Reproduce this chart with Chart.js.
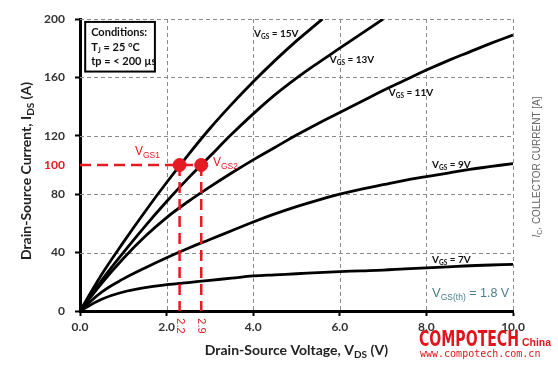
<!DOCTYPE html>
<html>
<head>
<meta charset="utf-8">
<script src="https://cdn.jsdelivr.net/npm/chart.js@4.4.1/dist/chart.umd.min.js"></script>
<style>body{margin:0;background:#fff}</style>
</head>
<body>
<canvas id="grafico" width="558" height="365"></canvas>
<script>
const vdsGrid = [0,0.5,1,1.5,2,2.5,3,3.5,4,4.5,5,5.5,6,6.5,7,7.5,8,8.5,9,9.5,10];
const vds15 = [0,0.5,1,1.5,2,2.5,3,3.5,4,4.5,5,5.5,5.6];
const ids15 = [0,25,47,68,88,107,125,141.5,157,171.5,185,197.5,200];
const vds13 = [0,0.5,1,1.5,2,2.5,3,3.5,4,4.5,5,5.5,6,6.5,7];
const ids13 = [0,21,40,58,75,91,106,121,135,148,159.5,170,180,190,200];
const ids11 = [0,19,36,51,64,75,85,94.5,103.5,112,120.5,128.5,136,143.5,151,158,165,171.5,177.5,183.5,189];
const ids9  = [0,13,22,29.5,36.5,43,49,55,61,66.5,71.5,76,80,83.5,86.5,89.5,92,94.5,97,99,101];
const ids7  = [0,8,13,16,18,19.5,21,22.5,24,24.8,25.5,26.3,27,27.5,28,28.8,29.5,30.2,31,31.5,32];
const curveNames = ['15V','13V','11V','9V','7V'];
const xTicks = [0,2,4,6,8,10];
const yTicks = [0,40,80,100,120,160,200];
const markerV = [2.3, 2.8];
const markerI = 100;
const markerTicks = ['2.2','2.9'];
const markerNames = ['GS1','GS2'];

const ROJO = '#e51a22';
const FONT = 'Lato, "Open Sans", sans-serif';
const SANS = '"Liberation Sans", Arial, sans-serif';

function puntos(xs, ys){ return xs.map((x,i)=>({x:x, y:ys[i]})); }

function curva(xs, ys){
    return {data: puntos(xs, ys), borderColor:'#000', borderWidth:2.8, pointRadius:0,
        fill:false, tension:0.4, order:2};
}

// texto con subindices
function rico(ctx, x, y, partes, align){
    let w = 0;
    partes.forEach(p => { ctx.font = p.f; w += ctx.measureText(p.t).width; });
    let cx = align === 'center' ? x - w/2 : x;
    ctx.textAlign = 'left';
    partes.forEach(p => { ctx.font = p.f; ctx.fillText(p.t, cx, y + (p.dy||0)); cx += ctx.measureText(p.t).width; });
}

// rejilla punteada a partir de los ticks de las escalas
const rejilla = {
    id: 'rejilla',
    beforeDatasetsDraw(chart){
        const ctx = chart.ctx, ca = chart.chartArea, sx = chart.scales.x, sy = chart.scales.y;
        ctx.save();
        ctx.strokeStyle = '#8a8a8a';
        ctx.lineWidth = 1;
        ctx.setLineDash([4,3]);
        sx.ticks.forEach(t => {
            if (t.value === 0) return;
            const x = Math.round(sx.getPixelForValue(t.value)) + 0.5;
            ctx.beginPath(); ctx.moveTo(x, ca.top); ctx.lineTo(x, ca.bottom); ctx.stroke();
        });
        sy.ticks.forEach(t => {
            if (t.value === 0 || t.value === markerI) return;
            const y = Math.round(sy.getPixelForValue(t.value)) + 0.5;
            ctx.beginPath(); ctx.moveTo(ca.left, y); ctx.lineTo(ca.right, y); ctx.stroke();
        });
        ctx.restore();
    }
};

const anotaciones = {
    id: 'anotaciones',
    afterDatasetsDraw(chart){
        const ctx = chart.ctx, sx = chart.scales.x, sy = chart.scales.y;
        const px = v => sx.getPixelForValue(v), py = v => sy.getPixelForValue(v);
        ctx.save();
        ctx.textBaseline = 'alphabetic';

        // etiquetas de las curvas
        const pos = [[4.02,188],[5.77,170],[7.13,147],[8.13,98],[8.13,33]];
        ctx.fillStyle = '#111';
        curveNames.forEach((n,i) => {
            rico(ctx, px(pos[i][0]), py(pos[i][1]), [
                {t:'V', f:'bold 10px '+FONT},
                {t:'GS', f:'bold 6.5px '+FONT, dy:2},
                {t:' = '+n, f:'bold 10px '+FONT}
            ]);
        });

        // cuadro de condiciones
        const bx = px(0.12), by = py(198), bw = px(1.73)-bx, bh = py(164)-by;
        ctx.fillStyle = '#fff';
        ctx.fillRect(bx, by, bw, bh);
        ctx.lineWidth = 2; ctx.strokeStyle = '#000';
        ctx.strokeRect(bx, by, bw, bh);
        ctx.fillStyle = '#111';
        rico(ctx, bx+6, by+14, [{t:'Conditions:', f:'bold 11px '+FONT}]);
        rico(ctx, bx+6, by+29, [{t:'T', f:'bold 11px '+FONT},{t:'J', f:'bold 7px '+FONT, dy:2},{t:' = 25 °C', f:'bold 11px '+FONT}]);
        rico(ctx, bx+6, by+43, [{t:'tp = < 200 µs', f:'bold 11px '+FONT}]);

        // VGS(th)
        ctx.fillStyle = '#4a7e8a';
        rico(ctx, px(8.13), py(9.6), [
            {t:'V', f:'13px '+SANS},
            {t:'GS(th)', f:'8.5px '+SANS, dy:3},
            {t:' = 1.8 V', f:'12.5px '+SANS}
        ]);

        // etiquetas rojas
        ctx.fillStyle = ROJO;
        rico(ctx, px(1.27), py(107), [{t:'V', f:'12px '+SANS},{t:markerNames[0], f:'8.5px '+SANS, dy:3}]);
        rico(ctx, px(3.07), py(99), [{t:'V', f:'12px '+SANS},{t:markerNames[1], f:'8.5px '+SANS, dy:3}]);
        markerV.forEach((v,i) => {
            ctx.save();
            ctx.translate(px(v), sy.bottom + 15);
            ctx.rotate(Math.PI/2);
            ctx.font = '11px '+SANS;
            ctx.textAlign = 'center'; ctx.textBaseline = 'middle';
            ctx.fillText(markerTicks[i], 0, 0);
            ctx.restore();
        });
        ctx.restore();
    },
    afterDraw(chart){
        const ctx = chart.ctx, ca = chart.chartArea;
        ctx.save();
        ctx.textBaseline = 'alphabetic';
        ctx.fillStyle = '#222';
        // titulo eje x
        rico(ctx, (ca.left+ca.right)/2, 355, [
            {t:'Drain-Source Voltage, V', f:'bold 14px '+FONT},
            {t:'DS', f:'bold 10px '+FONT, dy:3},
            {t:' (V)', f:'bold 14px '+FONT}
        ], 'center');
        // titulo eje y
        ctx.save();
        ctx.translate(31, 171);
        ctx.rotate(-Math.PI/2);
        rico(ctx, 0, 0, [
            {t:'Drain-Source Current, I', f:'bold 14px '+FONT},
            {t:'DS', f:'bold 10px '+FONT, dy:3},
            {t:' (A)', f:'bold 14px '+FONT}
        ], 'center');
        ctx.restore();
        // eje derecho (IC)
        ctx.save();
        ctx.fillStyle = '#666';
        ctx.translate(540, 167);
        ctx.rotate(-Math.PI/2);
        rico(ctx, 0, 0, [
            {t:'I', f:'italic 10px '+SANS},
            {t:'C', f:'7px '+SANS, dy:2},
            {t:', COLLECTOR CURRENT [A]', f:'10px '+SANS}
        ], 'center');
        ctx.restore();
        // marca de agua
        ctx.fillStyle = '#e0161e';
        ctx.font = 'bold 22px "Liberation Sans Narrow", "DejaVu Sans Condensed", sans-serif';
        ctx.fillText('COMPOTECH', 419, 346, 100);
        ctx.font = 'bold 11px "Liberation Sans Narrow", sans-serif';
        ctx.fillText('China', 522, 346, 29);
        ctx.font = '10px "DejaVu Sans Mono", monospace';
        ctx.fillText('www.compotech.com.cn', 420, 357, 131);
        ctx.restore();
    }
};

const marcaTick = c => (c.tick && c.tick.value === markerI) ? 'rgba(0,0,0,0)' : '#000';

document.addEventListener('DOMContentLoaded', () => {
    const ctx = document.getElementById('grafico').getContext('2d');
    const datasets = [
        {data: markerV.map(v => ({x:v, y:markerI})), showLine:false, pointRadius:6.5,
            pointBackgroundColor:ROJO, pointBorderColor:ROJO, order:0},
        {data: [{x:0, y:markerI},{x:markerV[1], y:markerI}], borderColor:ROJO, borderWidth:2.5,
            borderDash:[11,6], pointRadius:0, order:1},
        {data: [{x:markerV[0], y:markerI},{x:markerV[0], y:0}], borderColor:ROJO, borderWidth:2.5,
            borderDash:[11,6], pointRadius:0, order:1},
        {data: [{x:markerV[1], y:markerI},{x:markerV[1], y:0}], borderColor:ROJO, borderWidth:2.5,
            borderDash:[11,6], pointRadius:0, order:1},
        curva(vds15, ids15),
        curva(vds13, ids13),
        curva(vdsGrid, ids11),
        curva(vdsGrid, ids9),
        curva(vdsGrid, ids7)
    ];
    new Chart(ctx, {
        type: 'line',
        data: {datasets: datasets},
        options: {
            responsive: false,
            animation: false,
            devicePixelRatio: 1,
            layout: {padding: {left:0, right:45, top:19, bottom:0}},
            plugins: {legend:{display:false}, tooltip:{enabled:false}},
            scales: {
                x: {
                    type: 'linear', min: 0, max: 10,
                    afterFit: s => { s.height = 54; },
                    afterBuildTicks: s => { s.ticks = xTicks.map(v => ({value:v})); },
                    ticks: {callback: v => v.toFixed(1), color:'#333', padding:4,
                        font:{family:'Lato', weight:'bold', size:12}},
                    grid: {drawOnChartArea:false, tickLength:5, tickColor:'#000', tickWidth:2},
                    border: {color:'#000', width:3}
                },
                y: {
                    type: 'linear', min: 0, max: 200,
                    afterFit: s => { s.width = 80; },
                    afterBuildTicks: s => { s.ticks = yTicks.map(v => ({value:v})); },
                    ticks: {color: c => (c.tick && c.tick.value === markerI) ? ROJO : '#333', padding:10,
                        font:{family:'Lato', weight:'bold', size:12}},
                    grid: {drawOnChartArea:false, tickLength:5, tickWidth:2, tickColor: marcaTick},
                    border: {color:'#000', width:3}
                }
            }
        },
        plugins: [rejilla, anotaciones]
    });
});
</script>
</body>
</html>
